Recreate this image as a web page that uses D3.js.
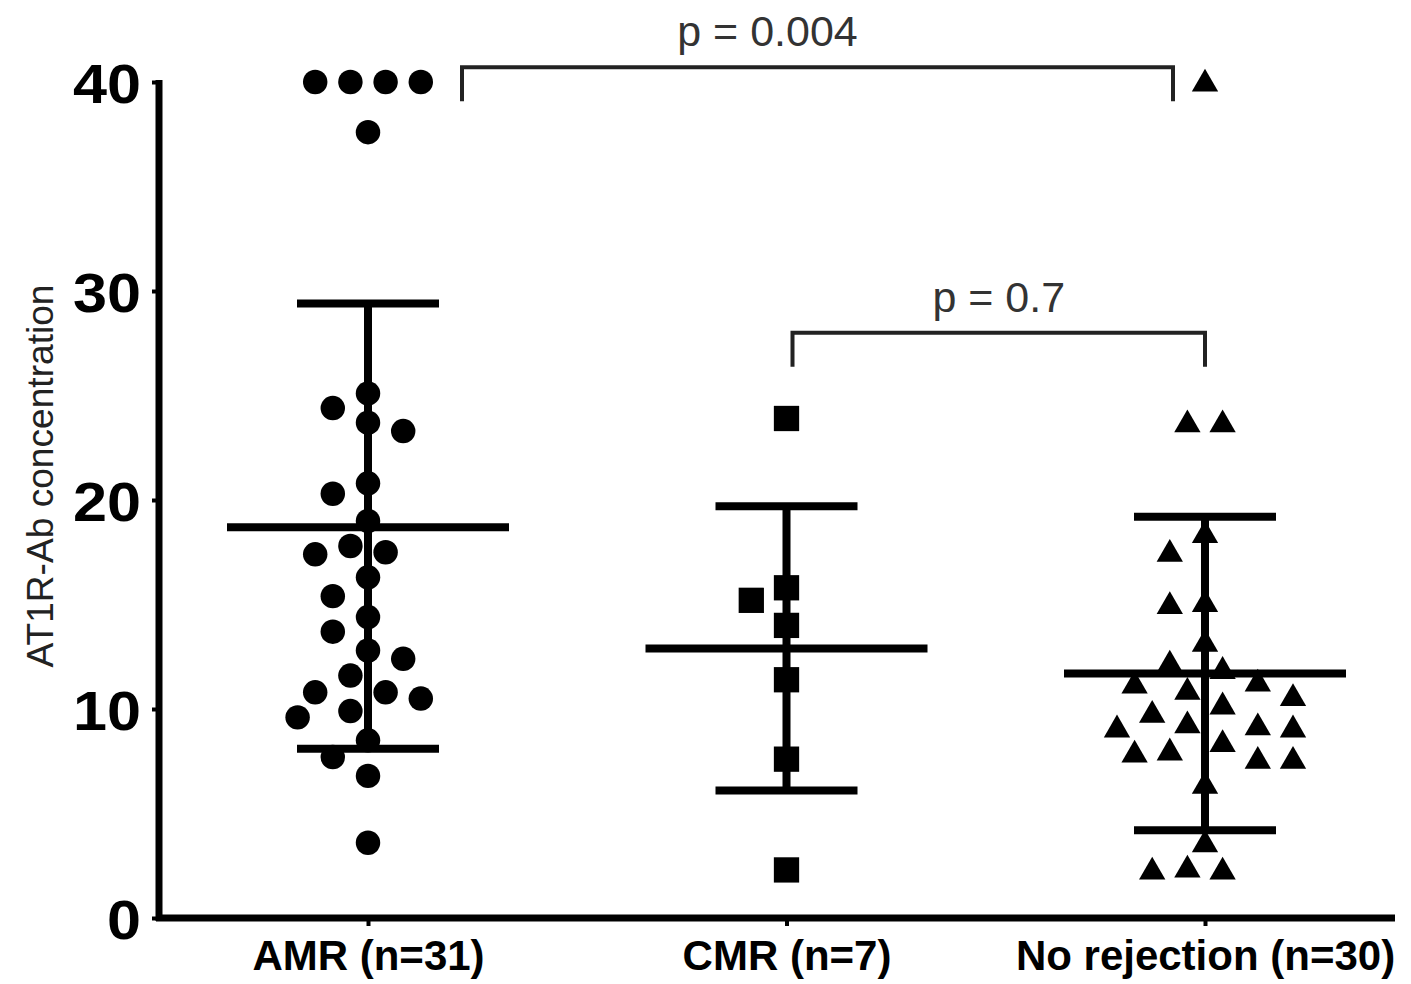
<!DOCTYPE html>
<html>
<head>
<meta charset="utf-8">
<script src="https://cdn.jsdelivr.net/npm/d3@7/dist/d3.min.js"></script>
<style>
  html, body { margin: 0; padding: 0; background: #fff; }
  svg { display: block; }
</style>
</head>
<body>
<svg id="chart" width="1411" height="984"></svg>
<script>
// ---------------- DATA ----------------
const categories = ["AMR (n=31)", "CMR (n=7)", "No rejection (n=30)"];
const amrValues = [40, 40, 40, 40, 37.6, 25.1, 24.4, 23.7, 23.3, 20.8, 20.3, 19.0,
  17.8, 17.5, 17.4, 16.3, 15.4, 14.4, 13.7, 12.8, 12.4, 11.6, 10.8, 10.8, 10.5,
  9.9, 9.6, 8.5, 7.7, 6.8, 3.6];
const cmrValues = [23.9, 15.8, 15.2, 14.0, 11.4, 7.6, 2.3];
const noRejValues = [40, 23.7, 23.7, 18.4, 17.5, 15.1, 15.0, 13.2, 12.2, 11.9,
  11.3, 11.2, 10.9, 10.6, 10.2, 9.8, 9.3, 9.2, 9.1, 9.1, 8.4, 8.0, 7.9, 7.6, 7.6,
  6.4, 3.6, 2.4, 2.3, 2.3];
const means = [18.7, 12.9, 11.7];
const sdUpper = [29.4, 19.7, 19.2];
const sdLower = [8.1, 6.1, 4.2];
const yTicks = [0, 10, 20, 30, 40];
const comparisons = [
  { from: "AMR (n=31)", to: "No rejection (n=30)", level: 40.7, label: "p = 0.004" },
  { from: "CMR (n=7)", to: "No rejection (n=30)", level: 28.0, label: "p = 0.7" }
];
const yTitle = "AT1R-Ab concentration";

// ---------------- LAYOUT ----------------
const svg = d3.select("#chart");
const FONT = "'Liberation Sans', Arial, Helvetica, sans-serif";
const axisX = 159, axisY = 918, axisRight = 1395;

const y = d3.scaleLinear().domain([0, 40]).range([918, 82]);
const x = d3.scalePoint().domain(categories).range([368, 1205]);

const groups = [
  { cat: categories[0], values: amrValues, symbol: d3.symbolCircle, size: 470 },
  { cat: categories[1], values: cmrValues, symbol: d3.symbolSquare, size: 640 },
  { cat: categories[2], values: noRejValues, symbol: d3.symbolTriangle, size: 300 }
];

// simple beeswarm layout (greedy, column step)
const step = 17.6, minDist = 29;
function swarm(values, cx) {
  const placed = [];
  const sorted = values.slice().sort((a, b) => b - a);
  sorted.forEach(v => {
    const py = y(v);
    for (let i = 0; i < 40; i++) {
      const k = i === 0 ? 0 : (i % 2 === 1 ? -Math.ceil(i / 2) : Math.ceil(i / 2));
      const px = cx + k * step;
      const ok = placed.every(p => Math.hypot(p.x - px, p.y - py) >= minDist);
      if (ok) { placed.push({ x: px, y: py, v }); break; }
    }
  });
  // centre groups of tied values when possible
  const ties = d3.group(placed, d => d.v);
  ties.forEach(arr => {
    if (arr.length < 2) return;
    const shift = cx - d3.mean(arr, d => d.x);
    const others = placed.filter(p => !arr.includes(p));
    const ok = arr.every(a => others.every(o => Math.hypot(o.x - (a.x + shift), o.y - a.y) >= minDist));
    if (ok) arr.forEach(a => { a.x += shift; });
  });
  return placed;
}

// ---------------- AXES ----------------
const yAxis = d3.axisLeft(y).tickValues(yTicks).tickSize(7).tickPadding(10);
const gy = svg.append("g").attr("transform", `translate(${axisX},0)`).call(yAxis);
gy.select(".domain").remove();
gy.selectAll(".tick line").attr("stroke", "#000").attr("stroke-width", 4);
gy.selectAll(".tick text")
  .attr("font-family", FONT).attr("font-size", 56).attr("font-weight", "bold")
  .attr("fill", "#000").attr("x", -18).attr("dy", "0.36em")
  .attr("textLength", d => String(d).length * 34)
  .attr("lengthAdjust", "spacingAndGlyphs");
svg.append("line").attr("x1", axisX).attr("x2", axisX)
  .attr("y1", y(40) - 2).attr("y2", axisY + 3)
  .attr("stroke", "#000").attr("stroke-width", 7);

const xAxis = d3.axisBottom(x).tickSize(8).tickPadding(14);
const gx = svg.append("g").attr("transform", `translate(0,${axisY})`).call(xAxis);
gx.select(".domain").remove();
gx.selectAll(".tick line").attr("stroke", "#000").attr("stroke-width", 4);
gx.selectAll(".tick text")
  .attr("font-family", FONT).attr("font-size", 42).attr("font-weight", "bold")
  .attr("fill", "#000").attr("dy", "0.71em");
svg.append("line").attr("x1", axisX - 3).attr("x2", axisRight)
  .attr("y1", axisY).attr("y2", axisY)
  .attr("stroke", "#000").attr("stroke-width", 7);

svg.append("text")
  .attr("transform", `translate(53,476) rotate(-90)`)
  .attr("text-anchor", "middle")
  .attr("font-family", FONT).attr("font-size", 37)
  .attr("textLength", 383).attr("lengthAdjust", "spacingAndGlyphs")
  .attr("fill", "#222")
  .text(yTitle);

// ---------------- POINTS ----------------
groups.forEach(g => {
  const cx = x(g.cat);
  const pts = swarm(g.values, cx);
  svg.append("g").selectAll("path").data(pts).join("path")
    .attr("d", d3.symbol().type(g.symbol).size(g.size))
    .attr("transform", d => `translate(${d.x},${d.y + (g.symbol === d3.symbolTriangle ? 2 : 0)})`)
    .attr("fill", "#000");
});

// ---------------- MEAN & SD ----------------
const meanHalf = 141, capHalf = 71;
const stats = svg.append("g").attr("stroke", "#000").attr("stroke-width", 8);
categories.forEach((c, i) => {
  const cx = x(c);
  stats.append("line").attr("x1", cx).attr("x2", cx)
    .attr("y1", y(sdUpper[i])).attr("y2", y(sdLower[i]));
  stats.append("line").attr("x1", cx - capHalf).attr("x2", cx + capHalf)
    .attr("y1", y(sdUpper[i])).attr("y2", y(sdUpper[i]));
  stats.append("line").attr("x1", cx - capHalf).attr("x2", cx + capHalf)
    .attr("y1", y(sdLower[i])).attr("y2", y(sdLower[i]));
  stats.append("line").attr("x1", cx - meanHalf).attr("x2", cx + meanHalf)
    .attr("y1", y(means[i])).attr("y2", y(means[i]));
});

// ---------------- SIGNIFICANCE BRACKETS ----------------
const bracketOffsets = [[94, -32], [6, 0]];
comparisons.forEach((cmp, i) => {
  const x1 = x(cmp.from) + bracketOffsets[i][0];
  const x2 = x(cmp.to) + bracketOffsets[i][1];
  const by = y(cmp.level);
  svg.append("path")
    .attr("d", `M${x1},${by + 34} V${by} H${x2} V${by + 34}`)
    .attr("fill", "none").attr("stroke", "#222").attr("stroke-width", 4);
  svg.append("text")
    .attr("x", (x1 + x2) / 2 + (i === 0 ? -50 : 0)).attr("y", by - 21)
    .attr("text-anchor", "middle")
    .attr("font-family", FONT).attr("font-size", 43)
    .attr("fill", "#333")
    .text(cmp.label);
});
</script>
</body>
</html>
